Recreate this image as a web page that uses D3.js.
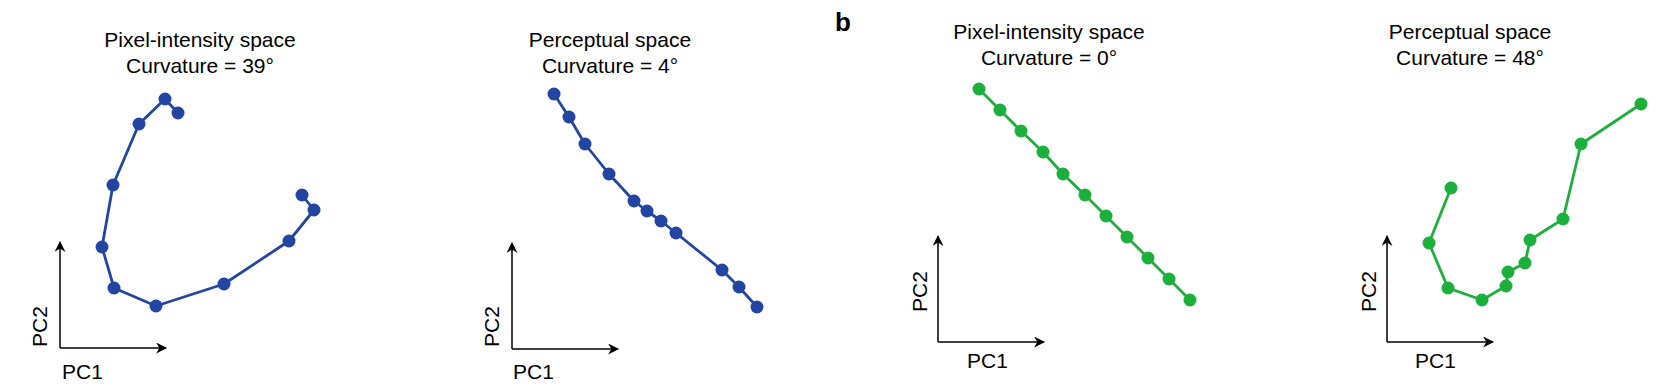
<!DOCTYPE html>
<html>
<head>
<meta charset="utf-8">
<script src="https://cdn.jsdelivr.net/npm/d3@7"></script>
<style>
  body { margin: 0; background: #fff; }
  text { font-family: "Liberation Sans", Arial, Helvetica, sans-serif; fill: #000; }
</style>
</head>
<body>
<div id="chart"></div>
<script>
// trajectories projected on the first two principal components (arbitrary units)
const pixelA_pc1 = [118, 105, 79, 53, 42, 54, 96, 164, 229, 254, 242];
const pixelA_pc2 = [235, 249, 224, 163, 101, 60, 42, 64, 107, 138, 153];

const percA_pc1 = [42, 57, 73, 97, 122, 135, 149, 164, 210, 227, 245];
const percA_pc2 = [255, 232, 205, 175, 148, 138, 128, 116, 79, 62, 42];

const pixelB_pc1 = [41, 62, 83, 105, 125, 147, 168, 189, 210, 231, 252];
const pixelB_pc2 = [253, 232, 211, 190, 168, 147, 126, 105, 84, 63, 42];

const percB_pc1 = [64, 42, 61, 95, 119, 121, 138, 143, 176, 194, 254];
const percB_pc2 = [154, 99, 54, 42, 56, 70, 79, 102, 123, 198, 238];

const titles = [
  ["Pixel-intensity space", "Curvature = 39°"],
  ["Perceptual space", "Curvature = 4°"],
  ["Pixel-intensity space", "Curvature = 0°"],
  ["Perceptual space", "Curvature = 48°"]
];

const blue = "#2145a0";
const green = "#1caf3b";

const panels = [
  { pc1: pixelA_pc1, pc2: pixelA_pc2, title: titles[0], color: blue,  ox: 60,   oy: 348, tx: 200,  ty: 47, pc1x: 62,   pc1y: 379, pc2x: 47,   pc2y: 347 },
  { pc1: percA_pc1,  pc2: percA_pc2,  title: titles[1], color: blue,  ox: 512,  oy: 349, tx: 610,  ty: 47, pc1x: 513,  pc1y: 379, pc2x: 499,  pc2y: 347 },
  { pc1: pixelB_pc1, pc2: pixelB_pc2, title: titles[2], color: green, ox: 938,  oy: 342, tx: 1049, ty: 39, pc1x: 967,  pc1y: 368, pc2x: 927,  pc2y: 312 },
  { pc1: percB_pc1,  pc2: percB_pc2,  title: titles[3], color: green, ox: 1387, oy: 342, tx: 1470, ty: 39, pc1x: 1415, pc1y: 368, pc2x: 1376, pc2y: 312 }
];

const axisLen = 106;

const svg = d3.select("#chart").append("svg")
  .attr("width", 1668)
  .attr("height", 390);

svg.append("defs").append("marker")
  .attr("id", "arrow")
  .attr("viewBox", "0 0 10 10")
  .attr("refX", 9)
  .attr("refY", 5)
  .attr("markerUnits", "userSpaceOnUse")
  .attr("markerWidth", 12)
  .attr("markerHeight", 11)
  .attr("orient", "auto")
  .append("path")
  .attr("d", "M0,0 L10,5 L0,10 L3,5 Z")
  .attr("fill", "#000");

// panel label
svg.append("text")
  .attr("x", 835)
  .attr("y", 31)
  .attr("font-size", 26)
  .attr("font-weight", "bold")
  .text("b");

panels.forEach(p => {
  const x = d3.scaleLinear().domain([0, 100]).range([p.ox, p.ox + 100]);
  const y = d3.scaleLinear().domain([0, 100]).range([p.oy, p.oy - 100]);
  const g = svg.append("g");

  // title
  p.title.forEach((t, i) => {
    g.append("text")
      .attr("x", p.tx)
      .attr("y", p.ty + i * 26)
      .attr("text-anchor", "middle")
      .attr("font-size", 21)
      .text(t);
  });

  // PC axes arrows
  g.append("line")
    .attr("x1", x(0)).attr("y1", y(0))
    .attr("x2", x(0)).attr("y2", y(axisLen))
    .attr("stroke", "#000").attr("stroke-width", 1.5)
    .attr("marker-end", "url(#arrow)");
  g.append("line")
    .attr("x1", x(0)).attr("y1", y(0))
    .attr("x2", x(axisLen)).attr("y2", y(0))
    .attr("stroke", "#000").attr("stroke-width", 1.5)
    .attr("marker-end", "url(#arrow)");

  g.append("text")
    .attr("x", p.pc1x)
    .attr("y", p.pc1y)
    .attr("font-size", 21)
    .text("PC1");
  g.append("text")
    .attr("transform", `translate(${p.pc2x},${p.pc2y}) rotate(-90)`)
    .attr("font-size", 21)
    .text("PC2");

  const pts = p.pc1.map((v, i) => [v, p.pc2[i]]);
  const line = d3.line().x(d => x(d[0])).y(d => y(d[1]));

  g.append("path")
    .datum(pts)
    .attr("d", line)
    .attr("fill", "none")
    .attr("stroke", p.color)
    .attr("stroke-width", 2.8)
    .attr("stroke-linejoin", "round");

  g.selectAll("circle")
    .data(pts)
    .join("circle")
    .attr("cx", d => x(d[0]))
    .attr("cy", d => y(d[1]))
    .attr("r", 6.5)
    .attr("fill", p.color);
});
</script>
</body>
</html>
